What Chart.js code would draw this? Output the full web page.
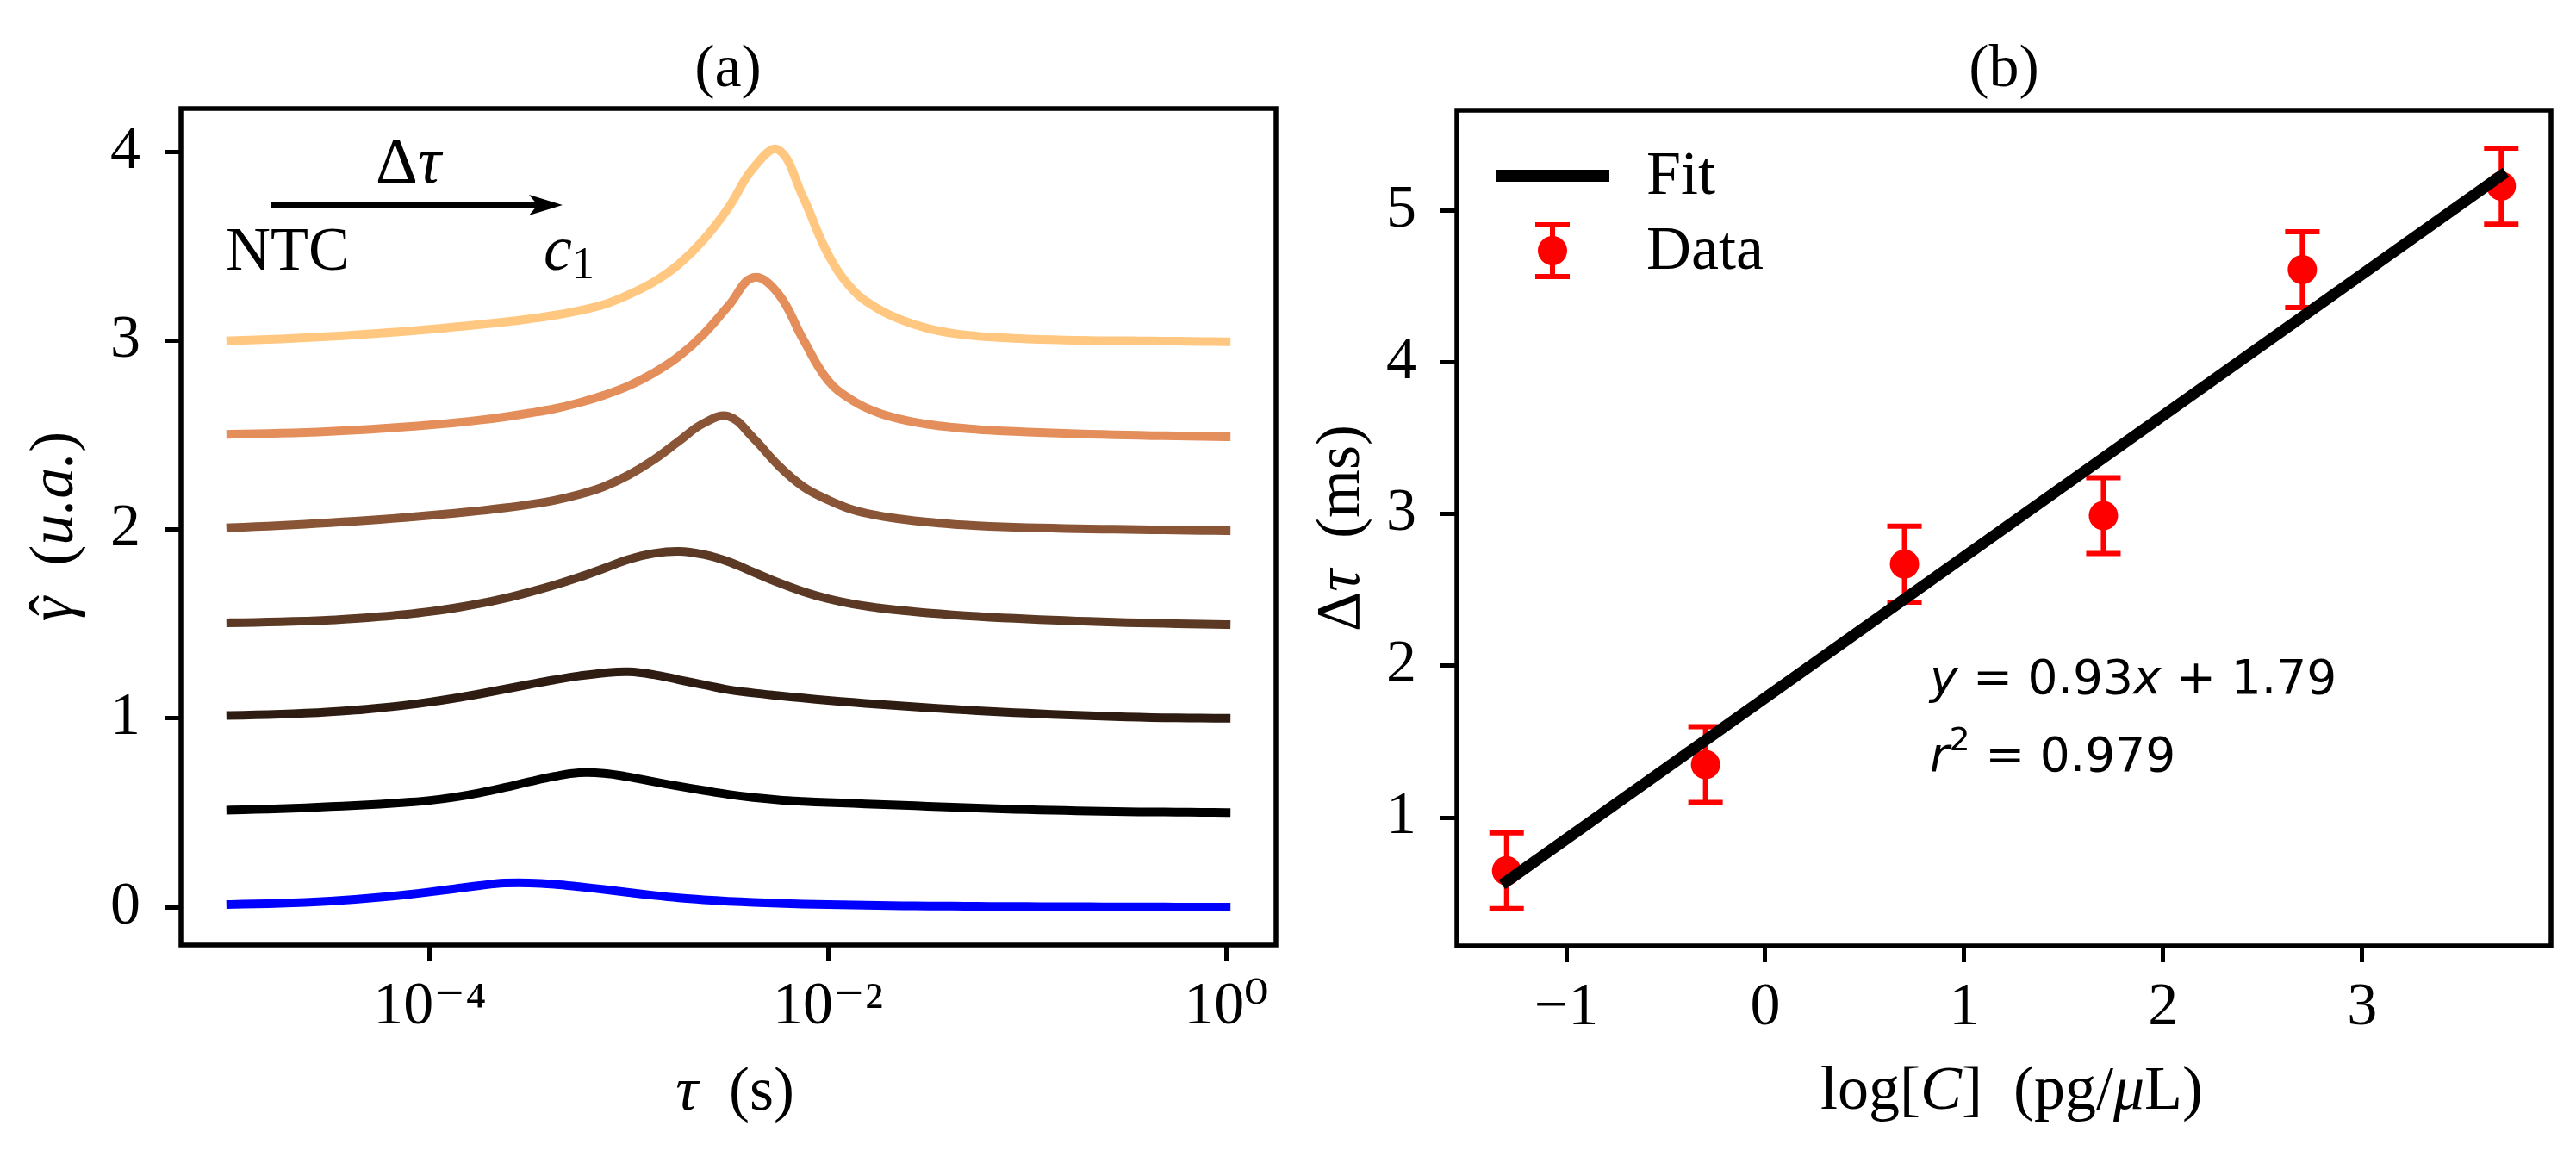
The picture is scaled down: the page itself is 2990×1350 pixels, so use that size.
<!DOCTYPE html>
<html>
<head>
<meta charset="utf-8">
<script src="https://cdn.jsdelivr.net/npm/chart.js@4.4.1/dist/chart.umd.min.js"></script>
<style>
  html, body { margin: 0; padding: 0; background: #fff; }
  #wrap { position: relative; width: 2990px; height: 1350px; }
  canvas { position: absolute; top: 0; }
  #chartA { left: 0; }
  #chartB { left: 1495px; }
</style>
</head>
<body>
<div id="wrap">
  <canvas id="chartA" width="1495" height="1350"></canvas>
  <canvas id="chartB" width="1495" height="1350"></canvas>
</div>
<script>
// ---- panel (a): relaxation time distributions ----
// sample positions in log10(tau / s)
const logTau = [-5, -4.875, -4.75, -4.625, -4.5, -4.375, -4.25, -4.125, -4, -3.875, -3.75, -3.625, -3.5, -3.375, -3.25, -3.125,
    -3, -2.875, -2.75, -2.625, -2.5, -2.375, -2.25, -2.125, -2, -1.875, -1.75, -1.625, -1.5, -1.375, -1.25, -1.125,
    -1, -0.875, -0.75, -0.625, -0.5, -0.375, -0.25, -0.125, 0];

const gammaNTC = [0.015, 0.018, 0.021, 0.026, 0.033, 0.042, 0.053, 0.066, 0.081, 0.098, 0.115, 0.128, 0.129, 0.122, 0.109, 0.094,
    0.078, 0.063, 0.05, 0.04, 0.032, 0.026, 0.021, 0.017, 0.014, 0.012, 0.01, 0.008, 0.007, 0.006, 0.005, 0.004,
    0.004, 0.003, 0.003, 0.002, 0.002, 0.002, 0.001, 0.001, 0.001];
const gammaC6 = [0.515, 0.518, 0.522, 0.527, 0.533, 0.539, 0.546, 0.555, 0.566, 0.583, 0.606, 0.634, 0.665, 0.693, 0.712, 0.709,
    0.69, 0.665, 0.641, 0.619, 0.598, 0.581, 0.569, 0.561, 0.555, 0.55, 0.545, 0.54, 0.535, 0.53, 0.525, 0.521,
    0.517, 0.514, 0.511, 0.508, 0.506, 0.505, 0.504, 0.503, 0.502];
const gammaC5 = [1.016, 1.019, 1.023, 1.028, 1.035, 1.044, 1.056, 1.07, 1.087, 1.107, 1.13, 1.155, 1.18, 1.204, 1.225, 1.241,
    1.247, 1.232, 1.205, 1.178, 1.152, 1.135, 1.121, 1.108, 1.096, 1.085, 1.075, 1.066, 1.057, 1.049, 1.041, 1.034,
    1.028, 1.022, 1.017, 1.012, 1.008, 1.005, 1.003, 1.002, 1.001];
const gammaC4 = [1.507, 1.509, 1.512, 1.516, 1.521, 1.529, 1.539, 1.551, 1.566, 1.585, 1.608, 1.636, 1.669, 1.706, 1.748, 1.795,
    1.843, 1.874, 1.885, 1.868, 1.83, 1.775, 1.72, 1.672, 1.634, 1.606, 1.586, 1.571, 1.559, 1.549, 1.54, 1.533,
    1.527, 1.521, 1.516, 1.512, 1.508, 1.505, 1.502, 1.499, 1.497];
const gammaC3 = [2.01, 2.016, 2.022, 2.029, 2.037, 2.045, 2.054, 2.064, 2.075, 2.087, 2.1, 2.115, 2.133, 2.155, 2.186, 2.228,
    2.29, 2.37, 2.468, 2.563, 2.60, 2.485, 2.341, 2.228, 2.158, 2.105, 2.075, 2.055, 2.04, 2.029, 2.021, 2.015,
    2.011, 2.008, 2.005, 2.003, 2.001, 1.999, 1.998, 1.996, 1.995];
const gammaC2 = [2.505, 2.508, 2.511, 2.515, 2.52, 2.527, 2.535, 2.544, 2.554, 2.566, 2.58, 2.597, 2.617, 2.64, 2.672, 2.712,
    2.762, 2.83, 2.917, 3.035, 3.185, 3.335, 3.25, 3.008, 2.79, 2.683, 2.62, 2.582, 2.558, 2.542, 2.531, 2.523,
    2.517, 2.512, 2.508, 2.504, 2.501, 2.498, 2.496, 2.494, 2.492];
const gammaC1 = [3.0, 3.005, 3.01, 3.016, 3.023, 3.031, 3.04, 3.05, 3.061, 3.073, 3.086, 3.1, 3.116, 3.135, 3.16, 3.192,
    3.245, 3.312, 3.405, 3.535, 3.705, 3.915, 4.012, 3.76, 3.46, 3.27, 3.17, 3.108, 3.066, 3.04, 3.025, 3.016,
    3.01, 3.006, 3.003, 3.001, 3.0, 2.999, 2.998, 2.996, 2.995];

const curveNames = ['NTC', 'c6', 'c5', 'c4', 'c3', 'c2', 'c1'];
const curveValues = [gammaNTC, gammaC6, gammaC5, gammaC4, gammaC3, gammaC2, gammaC1];
const curveColors = ['#0000FF', '#000000', '#2E1C12', '#5B3924', '#895536', '#E48E5B', '#FFC77F'];

const tauTicks = [1e-4, 1e-2, 1];
const tauTickLabels = ['10\u207B\u2074', '10\u207B\u00B2', '10\u2070'];
const gammaTicks = [0, 1, 2, 3, 4];

// ---- panel (b): shift vs concentration ----
const logC = [-1.3, -0.3, 0.7, 1.7, 2.7, 3.7];
const deltaTau = [0.65, 1.35, 2.67, 2.99, 4.61, 5.16];
const deltaTauErr = [0.25, 0.25, 0.25, 0.25, 0.25, 0.25];
const fitX = [-1.3, 3.7];
const fitY = [0.58, 5.23];

const logCTicks = [-1, 0, 1, 2, 3];
const deltaTauTicks = [1, 2, 3, 4, 5];

const SERIF = '"Liberation Serif", "DejaVu Serif", serif';
const SANS = '"DejaVu Sans", sans-serif';
const rm = (s) => s + 'px ' + SERIF;
const it = (s) => 'italic ' + s + 'px ' + SERIF;
const sf = (s) => s + 'px ' + SANS;
const sfi = (s) => 'italic ' + s + 'px ' + SANS;

Chart.defaults.font.family = SERIF;
Chart.defaults.color = '#000';

// draw a run of differently styled pieces: [text, font, dy, 'over', dx]
// 'over' puts the piece centred above the previous one (accents)
function drawRuns(ctx, runs, x, y, align) {
    let w = 0;
    for (const r of runs) {
        if (r[3] === 'over') continue;
        ctx.font = r[1];
        w += ctx.measureText(r[0]).width;
    }
    let cx = align === 'center' ? x - w / 2 : x;
    let prevX = cx, prevW = 0;
    ctx.textAlign = 'left';
    ctx.textBaseline = 'alphabetic';
    ctx.fillStyle = '#000';
    for (const r of runs) {
        ctx.font = r[1];
        const rw = ctx.measureText(r[0]).width;
        if (r[3] === 'over') {
            ctx.fillText(r[0], prevX + (prevW - rw) / 2 + (r[4] || 0), y + (r[2] || 0));
            continue;
        }
        ctx.fillText(r[0], cx, y + (r[2] || 0));
        prevX = cx; prevW = rw;
        cx += rw;
    }
}

function drawRotated(ctx, runs, x, y) {
    ctx.save();
    ctx.translate(x, y);
    ctx.rotate(-Math.PI / 2);
    drawRuns(ctx, runs, 0, 0, 'center');
    ctx.restore();
}

const boxPlugin = {
    id: 'box',
    afterDraw(chart) {
        const { ctx, chartArea: a } = chart;
        ctx.save();
        ctx.strokeStyle = '#000';
        ctx.lineWidth = 5.5;
        ctx.strokeRect(a.left, a.top, a.right - a.left, a.bottom - a.top);
        ctx.restore();
    }
};

function tickGrid() {
    return { display: true, drawOnChartArea: false, drawTicks: true, tickLength: 19, tickWidth: 5, lineWidth: 5, color: '#000', tickColor: '#000' };
}

// ---------------- chart (a) ----------------
const textA = {
    id: 'textA',
    afterDraw(chart) {
        const ctx = chart.ctx;
        ctx.save();
        drawRuns(ctx, [['(a)', rm(70)]], 845, 100, 'center');
        drawRuns(ctx, [['\u03C4', it(72)], ['\u2002(s)', rm(72)]], 853, 1288, 'center');
        drawRotated(ctx, [['\u03B3', it(72)], ['\u02C6', rm(72), 0, 'over', 4], ['\u2002(', rm(72)], ['u.a.', it(72)], [')', rm(72)]], 84, 611);

        // arrow NTC -> c1
        ctx.strokeStyle = '#000';
        ctx.fillStyle = '#000';
        ctx.lineWidth = 6;
        ctx.beginPath();
        ctx.moveTo(314, 238);
        ctx.lineTo(632, 238);
        ctx.stroke();
        ctx.beginPath();
        ctx.moveTo(653, 238);
        ctx.lineTo(614, 226);
        ctx.lineTo(624, 238);
        ctx.lineTo(614, 250);
        ctx.closePath();
        ctx.fill();

        drawRuns(ctx, [['\u0394', rm(76)], ['\u03C4', it(76)]], 436, 212, 'left');
        drawRuns(ctx, [['NTC', rm(72)]], 262, 313, 'left');
        drawRuns(ctx, [['c', it(74)], ['1', rm(52), 10]], 631, 313, 'left');
        ctx.restore();
    }
};

new Chart(document.getElementById('chartA'), {
    type: 'line',
    data: {
        datasets: curveValues.map((vals, i) => ({
            label: curveNames[i],
            data: logTau.map((lt, j) => ({ x: Math.pow(10, lt), y: vals[j] })),
            borderColor: curveColors[i],
            backgroundColor: curveColors[i],
            borderWidth: 10,
            pointRadius: 0,
            fill: false,
            tension: 0.4,
            borderCapStyle: 'square',
            borderJoinStyle: 'round'
        }))
    },
    options: {
        responsive: false,
        devicePixelRatio: 1,
        animation: false,
        events: [],
        layout: { padding: { top: 126, right: 14, left: 0, bottom: 0 } },
        plugins: { legend: { display: false }, tooltip: { enabled: false }, title: { display: false } },
        scales: {
            x: {
                type: 'logarithmic',
                min: Math.pow(10, -5.25),
                max: Math.pow(10, 0.25),
                grid: tickGrid(),
                border: { display: false },
                afterBuildTicks: (s) => { s.ticks = tauTicks.map((v) => ({ value: v })); },
                afterFit: (s) => { s.height = 253; },
                ticks: {
                    font: { size: 70 },
                    color: '#000',
                    padding: 12,
                    maxRotation: 0,
                    autoSkip: false,
                    callback: (v, i) => tauTickLabels[i]
                }
            },
            y: {
                type: 'linear',
                min: -0.2,
                max: 4.23,
                grid: tickGrid(),
                border: { display: false },
                afterBuildTicks: (s) => { s.ticks = gammaTicks.map((v) => ({ value: v })); },
                afterFit: (s) => { s.width = 210; },
                ticks: {
                    font: { size: 70 },
                    color: '#000',
                    padding: 28,
                    callback: (v) => String(v)
                }
            }
        }
    },
    plugins: [boxPlugin, textA]
});

// ---------------- chart (b) ----------------
const errorBars = {
    id: 'errorBars',
    beforeDatasetsDraw(chart) {
        const { ctx, scales: { x, y } } = chart;
        ctx.save();
        ctx.strokeStyle = '#FF0000';
        ctx.lineWidth = 6;
        logC.forEach((c, i) => {
            const px = x.getPixelForValue(c);
            const top = y.getPixelForValue(deltaTau[i] + deltaTauErr[i]);
            const bot = y.getPixelForValue(deltaTau[i] - deltaTauErr[i]);
            ctx.beginPath();
            ctx.moveTo(px, top); ctx.lineTo(px, bot);
            ctx.moveTo(px - 20, top); ctx.lineTo(px + 20, top);
            ctx.moveTo(px - 20, bot); ctx.lineTo(px + 20, bot);
            ctx.stroke();
        });
        ctx.restore();
    }
};

const textB = {
    id: 'textB',
    afterDraw(chart) {
        const { ctx, chartArea: a } = chart;
        ctx.save();
        drawRuns(ctx, [['(b)', rm(70)]], 831, 100, 'center');
        drawRuns(ctx, [['log[', rm(72)], ['C', it(72)], [']\u2002(pg/', rm(72)], ['\u03BC', it(72)], ['L)', rm(72)]], 840, 1287, 'center');
        drawRotated(ctx, [['\u0394', rm(72)], ['\u03C4', it(72)], ['\u2002(ms)', rm(72)]], 82, 613);

        drawRuns(ctx, [['y', sfi(55)], [' = 0.93', sf(55)], ['x', sfi(55)], [' + 1.79', sf(55)]], 745, 805, 'left');
        drawRuns(ctx, [['r', sfi(55)], ['2', sf(38), -24], [' = 0.979', sf(55)]], 745, 895, 'left');

        // legend (upper left)
        const fit = chart.data.datasets[0];
        const dat = chart.data.datasets[1];
        ctx.strokeStyle = fit.borderColor;
        ctx.lineWidth = 14;
        ctx.lineCap = 'butt';
        ctx.beginPath();
        ctx.moveTo(a.left + 46, a.top + 76);
        ctx.lineTo(a.left + 177, a.top + 76);
        ctx.stroke();

        const mx = a.left + 111;
        ctx.strokeStyle = dat.borderColor;
        ctx.lineWidth = 6;
        ctx.beginPath();
        ctx.moveTo(mx, a.top + 133); ctx.lineTo(mx, a.top + 193);
        ctx.moveTo(mx - 20, a.top + 133); ctx.lineTo(mx + 20, a.top + 133);
        ctx.moveTo(mx - 20, a.top + 193); ctx.lineTo(mx + 20, a.top + 193);
        ctx.stroke();
        ctx.fillStyle = dat.backgroundColor;
        ctx.beginPath();
        ctx.arc(mx, a.top + 163, 17, 0, Math.PI * 2);
        ctx.fill();

        ctx.textBaseline = 'middle';
        ctx.fillStyle = '#000';
        ctx.font = rm(72);
        ctx.fillText(fit.label, a.left + 220, a.top + 78);
        ctx.fillText(dat.label, a.left + 220, a.top + 165);
        ctx.restore();
    }
};

new Chart(document.getElementById('chartB'), {
    type: 'scatter',
    data: {
        datasets: [{
            label: 'Fit',
            data: fitX.map((v, i) => ({ x: v, y: fitY[i] })),
            showLine: true,
            borderColor: '#000000',
            backgroundColor: '#000000',
            borderWidth: 13,
            pointRadius: 0,
            borderCapStyle: 'square'
        }, {
            label: 'Data',
            data: logC.map((v, i) => ({ x: v, y: deltaTau[i] })),
            showLine: false,
            borderColor: '#FF0000',
            backgroundColor: '#FF0000',
            pointRadius: 17,
            pointBorderWidth: 0
        }]
    },
    options: {
        responsive: false,
        devicePixelRatio: 1,
        animation: false,
        events: [],
        layout: { padding: { top: 128, right: 29, left: 0, bottom: 0 } },
        plugins: { legend: { display: false }, tooltip: { enabled: false }, title: { display: false } },
        scales: {
            x: {
                type: 'linear',
                min: -1.55,
                max: 3.95,
                grid: tickGrid(),
                border: { display: false },
                afterBuildTicks: (s) => { s.ticks = logCTicks.map((v) => ({ value: v })); },
                afterFit: (s) => { s.height = 252; },
                ticks: {
                    font: { size: 70 },
                    color: '#000',
                    padding: 12,
                    maxRotation: 0,
                    autoSkip: false,
                    callback: (v) => (v < 0 ? '\u2212' + Math.abs(v) : String(v))
                }
            },
            y: {
                type: 'linear',
                min: 0.155,
                max: 5.66,
                grid: tickGrid(),
                border: { display: false },
                afterBuildTicks: (s) => { s.ticks = deltaTauTicks.map((v) => ({ value: v })); },
                afterFit: (s) => { s.width = 196; },
                ticks: {
                    font: { size: 70 },
                    color: '#000',
                    padding: 28,
                    callback: (v) => String(v)
                }
            }
        }
    },
    plugins: [errorBars, boxPlugin, textB]
});
</script>
</body>
</html>
